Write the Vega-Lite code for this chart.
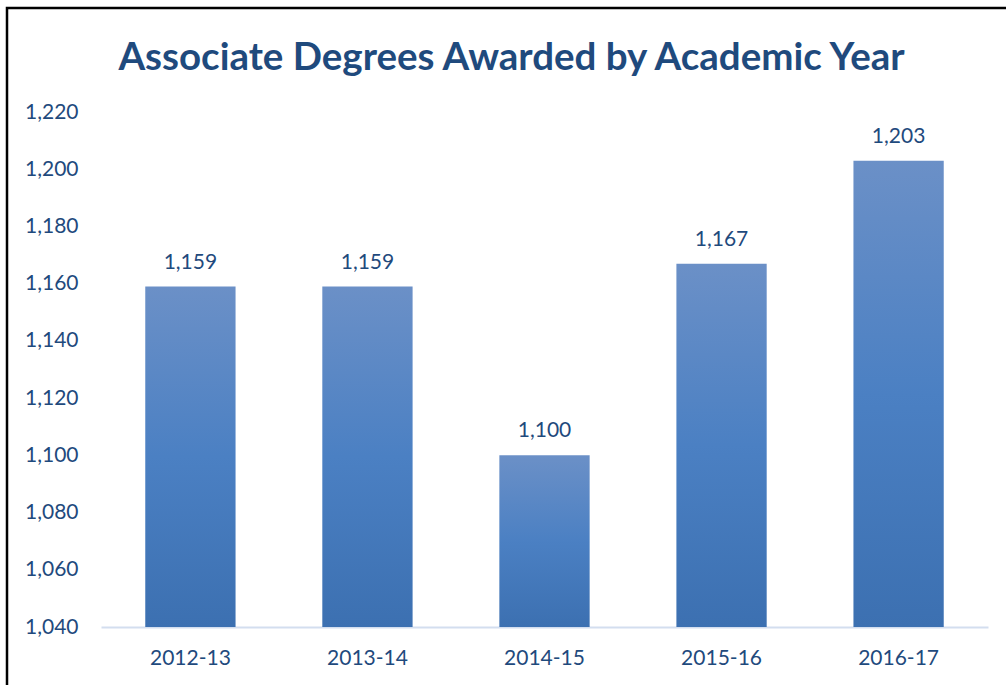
{
  "$schema": "https://vega.github.io/schema/vega-lite/v6.json",
  "autosize": "none",
  "width": 1003,
  "height": 682,
  "padding": {"left": 7, "top": 8, "right": -4, "bottom": -5},
  "background": "white",
  "title": {
    "text": "Associate Degrees Awarded by Academic Year",
    "anchor": "middle",
    "frame": "group",
    "baseline": "alphabetic",
    "offset": -100,
    "dx": 3,
    "font": "Lato",
    "fontSize": 38.5,
    "fontWeight": "bold",
    "color": "#1f4a7d"
  },
  "data": {
    "values": [
      {"year": "2012-13", "degrees": 1159},
      {"year": "2013-14", "degrees": 1159},
      {"year": "2014-15", "degrees": 1100},
      {"year": "2015-16", "degrees": 1167},
      {"year": "2016-17", "degrees": 1203}
    ]
  },
  "encoding": {
    "x": {
      "field": "year",
      "type": "nominal",
      "sort": null,
      "scale": {"range": [94, 981], "paddingInner": 0.49, "paddingOuter": 0.25},
      "axis": {
        "title": null,
        "labelAngle": 0,
        "offset": -63,
        "domainColor": "#d3deef",
        "domainWidth": 2,
        "ticks": false,
        "labelPadding": 20,
        "labelFont": "Lato",
        "labelFontSize": 21,
        "labelColor": "#1f4a7d"
      }
    },
    "y": {
      "field": "degrees",
      "type": "quantitative",
      "scale": {"domain": [1040, 1220], "range": [619, 104], "nice": false, "zero": false},
      "axis": {
        "title": null,
        "values": [1040, 1060, 1080, 1100, 1120, 1140, 1160, 1180, 1200, 1220],
        "format": ",.0f",
        "offset": -94,
        "domain": false,
        "ticks": false,
        "grid": false,
        "labelPadding": 23,
        "labelFont": "Lato",
        "labelFontSize": 21,
        "labelColor": "#1f4a7d"
      }
    }
  },
  "layer": [
    {
      "mark": {
        "type": "bar",
        "clip": false,
        "color": {
          "gradient": "linear",
          "x1": 0, "y1": 0, "x2": 0, "y2": 1,
          "stops": [
            {"offset": 0, "color": "#6b90c7"},
            {"offset": 0.5, "color": "#4b80c3"},
            {"offset": 1, "color": "#3c70b1"}
          ]
        }
      },
      "encoding": {
        "y2": {"datum": 1040}
      }
    },
    {
      "mark": {
        "type": "text",
        "baseline": "alphabetic",
        "dy": -18,
        "font": "Lato",
        "fontSize": 21,
        "color": "#1f4a7d"
      },
      "encoding": {
        "text": {"field": "degrees", "type": "quantitative", "format": ",.0f"}
      }
    }
  ],
  "config": {
    "view": {"stroke": "black", "strokeWidth": 2.5}
  }
}
